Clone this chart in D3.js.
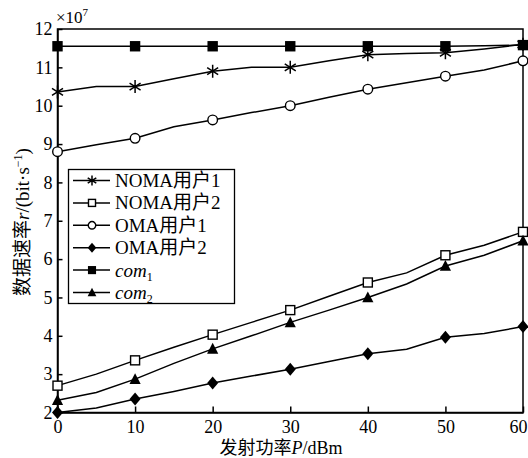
<!DOCTYPE html>
<html><head><meta charset="utf-8">
<script src="https://cdn.jsdelivr.net/npm/d3@7"></script>
<style>
body{margin:0;background:#fff;}
text{font-family:"Liberation Serif","Times New Roman","Noto Sans CJK SC",serif;fill:#000;}
</style></head>
<body><svg id="c" width="528" height="458"></svg>
<script>
const xs = [0,5,10,15,20,25,30,35,40,45,50,55,60];
const noma1 = [10.36,10.5,10.5,10.7,10.9,11.0,11.0,11.17,11.33,11.36,11.38,11.48,11.6];
const noma2 = [2.7,3.0,3.36,3.7,4.03,4.35,4.67,5.03,5.39,5.64,6.1,6.36,6.71];
const oma1 = [8.8,8.98,9.15,9.45,9.63,9.82,10.0,10.22,10.43,10.6,10.77,10.93,11.17];
const oma2 = [2.0,2.12,2.35,2.55,2.77,2.95,3.13,3.33,3.53,3.65,3.96,4.06,4.24];
const com1 = [11.55,11.55,11.55,11.55,11.55,11.55,11.55,11.55,11.55,11.55,11.55,11.56,11.58];
const com2 = [2.32,2.52,2.87,3.28,3.66,4.0,4.35,4.67,5.0,5.35,5.82,6.1,6.48];
const xTicks = [0,10,20,30,40,50,60];
const yTicks = [2,3,4,5,6,7,8,9,10,11,12];
const markerXs = [0,10,20,30,40,50,60];

const series = [
  {name:"NOMA用户1", vals:noma1, m:"asterisk"},
  {name:"NOMA用户2", vals:noma2, m:"osquare"},
  {name:"OMA用户1", vals:oma1, m:"circle"},
  {name:"OMA用户2", vals:oma2, m:"diamond"},
  {name:"com", sub:"1", vals:com1, m:"fsquare"},
  {name:"com", sub:"2", vals:com2, m:"triangle"}
];

const W=528,H=458, L=57.5, R=523, T=29, B=412.5;
const svg=d3.select("#c");
const x=d3.scaleLinear().domain([0,60]).range([L,R]);
const y=d3.scaleLinear().domain([2,12]).range([B,T]);

// frame
svg.append("rect").attr("x",L).attr("y",T).attr("width",R-L).attr("height",B-T)
  .attr("fill","none").attr("stroke","#000").attr("stroke-width",1.5);

const gx=svg.append("g").attr("transform",`translate(0,${B})`)
  .call(d3.axisBottom(x).tickValues(xTicks).tickSizeInner(-6).tickSizeOuter(0).tickPadding(8).tickFormat(d3.format("d")));
const gy=svg.append("g").attr("transform",`translate(${L},0)`)
  .call(d3.axisLeft(y).tickValues(yTicks).tickSizeInner(-5).tickSizeOuter(0).tickPadding(5).tickFormat(d3.format("d")));
[gx,gy].forEach(g=>{
  g.select(".domain").attr("stroke","#000").attr("stroke-width",1.5);
  g.selectAll(".tick line").attr("stroke","#000").attr("stroke-width",1.5);
  g.selectAll(".tick text").style("font-size","18px").attr("fill","#000");
});
gx.selectAll("text").attr("dy","0.71em");
gx.selectAll(".tick text").filter(d=>d===60).attr("dx","-5");

// multiplier
const mt=svg.append("text").attr("x",56).attr("y",23).style("font-size","17px");
mt.append("tspan").text("×10");
mt.append("tspan").text("7").attr("dy","-7").style("font-size","11px");

function marker(g,type,s){
  const k=s||1;
  if(type==="asterisk"){
    g.append("path").attr("d",`M0,${-6.5*k}V${6.5*k}M${-5.5*k},${-3.5*k}L${5.5*k},${3.5*k}M${-5.5*k},${3.5*k}L${5.5*k},${-3.5*k}`)
      .attr("stroke","#000").attr("stroke-width",1.5).attr("fill","none");
  } else if(type==="osquare"){
    g.append("rect").attr("x",-4.5*k).attr("y",-4.5*k).attr("width",9*k).attr("height",9*k)
      .attr("fill","#fff").attr("stroke","#000").attr("stroke-width",1.4);
  } else if(type==="circle"){
    g.append("circle").attr("r",4.8*k).attr("fill","#fff").attr("stroke","#000").attr("stroke-width",1.4);
  } else if(type==="diamond"){
    g.append("path").attr("d",`M0,${-6.5*k}L${5.5*k},0L0,${6.5*k}L${-5.5*k},0Z`).attr("fill","#000");
  } else if(type==="fsquare"){
    g.append("rect").attr("x",-5.2*k).attr("y",-5.2*k).attr("width",10.4*k).attr("height",10.4*k).attr("fill","#000");
  } else if(type==="triangle"){
    g.append("path").attr("d",`M0,${-6*k}L${5.6*k},${4.8*k}L${-5.6*k},${4.8*k}Z`).attr("fill","#000");
  }
}

const line=d3.line().x((d,i)=>x(xs[i])).y(d=>y(d));
series.forEach(s=>{
  svg.append("path").attr("d",line(s.vals)).attr("fill","none").attr("stroke","#000").attr("stroke-width",1.5);
});
series.forEach(s=>{
  xs.forEach((xv,i)=>{
    if(markerXs.includes(xv)){
      const g=svg.append("g").attr("transform",`translate(${x(xv)},${y(s.vals[i])})`);
      marker(g,s.m,1);
    }
  });
});

// legend
const lg=svg.append("g");
lg.append("rect").attr("x",68.5).attr("y",169.5).attr("width",166).attr("height",134)
  .attr("fill","#fff").attr("stroke","#000").attr("stroke-width",1.3);
series.forEach((s,i)=>{
  const cy=180.5+i*22.4;
  lg.append("line").attr("x1",73).attr("x2",110).attr("y1",cy).attr("y2",cy).attr("stroke","#000").attr("stroke-width",1.5);
  const g=lg.append("g").attr("transform",`translate(92,${cy})`);
  marker(g,s.m,0.78);
  const t=lg.append("text").attr("x",115).attr("y",cy+6.5).style("font-size","19px");
  if(s.sub){
    t.append("tspan").text(s.name).style("font-style","italic");
    t.append("tspan").text(s.sub).attr("dy","4").style("font-size","12px");
  } else t.text(s.name);
});

// axis labels
svg.append("text").attr("x",281).attr("y",454).attr("text-anchor","middle").style("font-size","18px")
  .call(t=>{t.append("tspan").text("发射功率");t.append("tspan").text("P").style("font-style","italic");t.append("tspan").text("/dBm");});
const yl=svg.append("text").attr("transform","translate(29,222) rotate(-90)").attr("text-anchor","middle").style("font-size","19px");
yl.append("tspan").text("数据速率");
yl.append("tspan").text("r").style("font-style","italic");
yl.append("tspan").text("/(bit·s");
yl.append("tspan").text("−1").attr("dy","-7").style("font-size","12px");
yl.append("tspan").text(")").attr("dy","7");
</script></body></html>
